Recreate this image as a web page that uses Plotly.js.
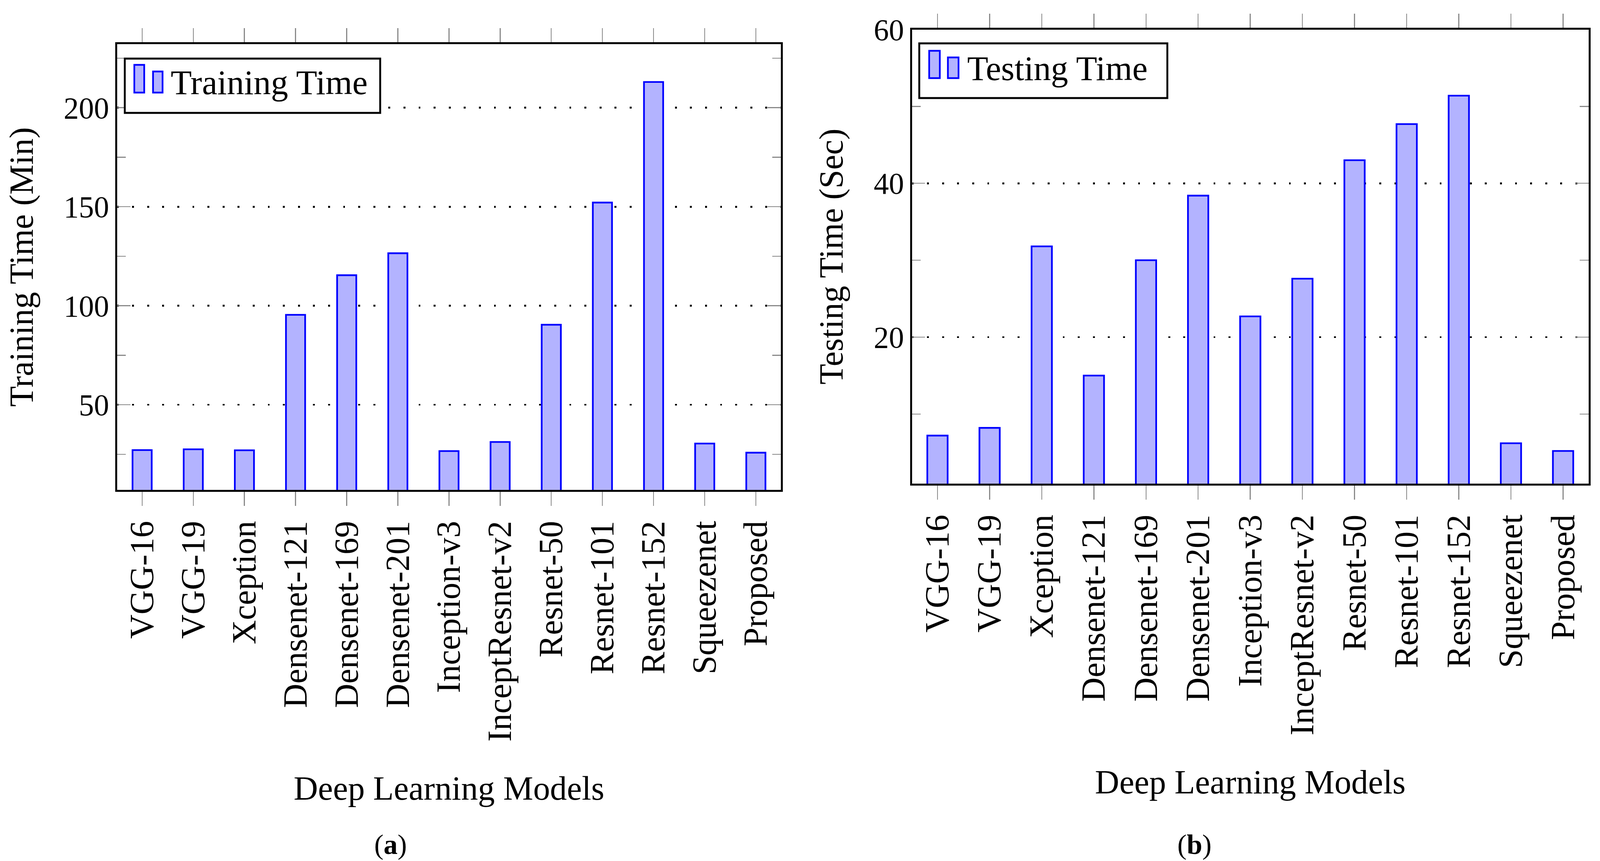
<!DOCTYPE html>
<html>
<head>
<meta charset="utf-8">
<script src="https://cdn.plot.ly/plotly-3.0.1.min.js"></script>
<style>
html,body{margin:0;padding:0;background:#fff;overflow:hidden;}
#chart{position:absolute;left:0;top:0;}
</style>
</head>
<body>
<div id="chart"></div>
<script>
// ---- data ----
const models = ["VGG-16","VGG-19","Xception","Densenet-121","Densenet-169","Densenet-201","Inception-v3","InceptResnet-v2","Resnet-50","Resnet-101","Resnet-152","Squeezenet","Proposed"];
const trainingTimeMin = [27.1, 27.5, 27.0, 95.4, 115.4, 126.5, 26.6, 31.2, 90.4, 152.1, 213.0, 30.4, 25.8];
const testingTimeSec = [7.2, 8.2, 31.8, 15.0, 30.0, 38.4, 22.7, 27.6, 43.0, 47.7, 51.4, 6.2, 5.2];
const seriesNames = ["Training Time", "Testing Time"];
const yTitles = ["Training Time (Min)", "Testing Time (Sec)"];
const xTitle = "Deep Learning Models";
const captions = ["(<b>a</b>)", "(<b>b</b>)"];

// ---- design size (reference pixels) and the actual viewport ----
const W = 4360, H = 2204;
const VW = window.innerWidth || W, VH = window.innerHeight || H;
const KX = VW / W, KY = VH / H;
const S = Math.sqrt(KX * KY);        // scale for fonts and strokes
const k = v => v * S;
const kx = v => v * KX;              // horizontal pixel distances
const ky = v => v * KY;              // vertical pixel distances

const px = v => v / W;          // reference x pixel -> paper fraction
const py = v => 1 - v / H;      // reference y pixel -> paper fraction
const FONT = '"Liberation Serif", "Times New Roman", serif';
const fill = '#b3b3ff', edge = '#0000ff', grey = '#8a8a8a';

document.getElementById('chart').style.width = VW + 'px';
document.getElementById('chart').style.height = VH + 'px';

const traces = [
  {type:'bar', x: models, y: trainingTimeMin, xaxis:'x', yaxis:'y', name: seriesNames[0],
   width: 0.375, marker:{color: fill, line:{color: edge, width: k(4.5)}}, showlegend:false},
  {type:'bar', x: models, y: testingTimeSec, xaxis:'x2', yaxis:'y2', name: seriesNames[1],
   width: 0.39, marker:{color: fill, line:{color: edge, width: k(4.5)}}, showlegend:false}
];

function xax(domain, anchor){
  return {
    domain: domain, anchor: anchor, type:'category', categoryorder:'array', categoryarray: models,
    range:[-0.49, 12.49], ticks:'outside', ticklen:ky(36), tickwidth:k(2.5), tickcolor:grey,
    mirror:'ticks', showline:true, linecolor:'#000', linewidth:k(5), showgrid:false, zeroline:false,
    tickangle:-90, tickfont:{family:FONT, size:k(89), color:'#000'}, ticklabelstandoff: ky(4),
    title:{text: xTitle, font:{family:FONT, size:k(89), color:'#000'}, standoff: ky(90)},
    fixedrange:true
  };
}
function yax(domain, anchor, range, dtick, minorDtick, title){
  return {
    domain: domain, anchor: anchor, range: range, tick0:0, dtick: dtick,
    ticks:'inside', ticklen:kx(36), tickwidth:k(2.5), tickcolor:grey, mirror:'ticks',
    showline:true, linecolor:'#000', linewidth:k(5), zeroline:false,
    showgrid:true, gridcolor:'#000', gridwidth:k(5), griddash: k(5).toFixed(1) + 'px,' + kx(36).toFixed(1) + 'px',
    minor:{tick0:0, dtick: minorDtick, ticks:'inside', ticklen:kx(24), tickwidth:k(2.5), tickcolor:grey, showgrid:false},
    tickfont:{family:FONT, size:k(80), color:'#000'}, ticklabelstandoff: 0,
    title:{text: title, font:{family:FONT, size:k(89), color:'#000'}, standoff: kx(55)},
    fixedrange:true
  };
}

// legend boxes drawn as decorations
function legendShapes(box, icon1, icon2){
  return [
    {type:'rect', xref:'paper', yref:'paper', x0:px(box[0]), x1:px(box[1]), y0:py(box[3]), y1:py(box[2]),
     line:{color:'#000', width:k(5)}, fillcolor:'#fff', layer:'above'},
    {type:'rect', xref:'paper', yref:'paper', x0:px(icon1[0]), x1:px(icon1[1]), y0:py(icon1[3]), y1:py(icon1[2]),
     line:{color:edge, width:k(4.5)}, fillcolor:fill, layer:'above'},
    {type:'rect', xref:'paper', yref:'paper', x0:px(icon2[0]), x1:px(icon2[1]), y0:py(icon2[3]), y1:py(icon2[2]),
     line:{color:edge, width:k(4.5)}, fillcolor:fill, layer:'above'}
  ];
}

const shapes = [].concat(
  legendShapes([340,1036,150,289],[366,393,166,237],[417,443,183,237]),
  legendShapes([2505,3181,111,251],[2532,2561,130,200],[2583,2612,147,200])
);

const annotations = [
  {xref:'paper', yref:'paper', x:px(463), y:py(211), xanchor:'left', yanchor:'middle', showarrow:false,
   text: seriesNames[0], font:{family:FONT, size:k(91), color:'#000'}},
  {xref:'paper', yref:'paper', x:px(2633), y:py(175), xanchor:'left', yanchor:'middle', showarrow:false,
   text: seriesNames[1], font:{family:FONT, size:k(91), color:'#000'}},
  {xref:'paper', yref:'paper', x:px(1064), y:py(2162), xanchor:'center', yanchor:'middle', showarrow:false,
   text: captions[0], font:{family:FONT, size:k(74), color:'#000'}},
  {xref:'paper', yref:'paper', x:px(3255), y:py(2162), xanchor:'center', yanchor:'middle', showarrow:false,
   text: captions[1], font:{family:FONT, size:k(74), color:'#000'}}
];

const layout = {
  width: VW, height: VH, margin:{l:0, r:0, t:0, b:0}, paper_bgcolor:'#fff', plot_bgcolor:'#fff',
  showlegend:false, bargap:0,
  xaxis: xax([px(319), px(2128)], 'y'),
  yaxis: yax([py(1254), py(113)], 'x', [7.0, 232.1], 50, 25, yTitles[0]),
  xaxis2: xax([px(2485), px(4329)], 'y2'),
  yaxis2: yax([py(1238), py(75.5)], 'x2', [0.95, 60.0001], 20, 10, yTitles[1]),
  shapes: shapes, annotations: annotations
};

Plotly.newPlot('chart', traces, layout, {staticPlot:true, displayModeBar:false});
</script>
</body>
</html>
